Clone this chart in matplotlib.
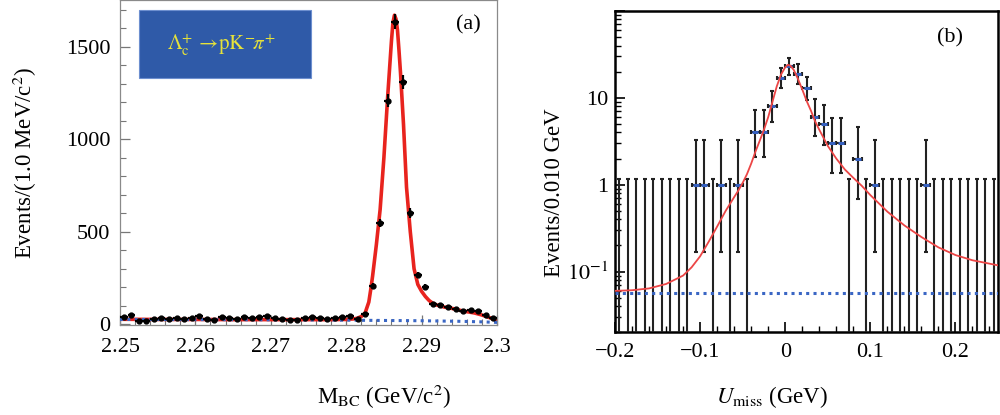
import numpy as np
import matplotlib
matplotlib.use("Agg")
import matplotlib.pyplot as plt
from matplotlib.ticker import MultipleLocator, LogLocator, FixedLocator, FixedFormatter, FuncFormatter, NullFormatter
from matplotlib.patches import Rectangle

plt.rcParams['font.family'] = ['Liberation Serif', 'DejaVu Serif']
plt.rcParams['mathtext.fontset'] = 'stix'

# ---- panel (a): M_BC, 1 MeV bins 2.250 - 2.300
mbc_centers = np.linspace(2.2505, 2.2995, 50)
counts_a = [40, 48, 20, 20, 30, 35, 30, 35, 30, 33,
            45, 30, 25, 40, 33, 28, 40, 35, 38, 42,
            33, 28, 22, 22, 33, 40, 33, 30, 33, 40,
            45, 30, 58, 206, 547, 1208, 1634, 1308, 601, 266,
            203, 112, 105, 94, 80, 72, 76, 70, 49, 33]

fit_a_x = [2.250, 2.255, 2.260, 2.265, 2.270, 2.275, 2.278, 2.280, 2.281, 2.2815,
           2.282, 2.2825, 2.283, 2.2833, 2.2835, 2.284, 2.2845, 2.285, 2.2855, 2.286,
           2.2862, 2.2864, 2.2866, 2.2868, 2.287, 2.2872, 2.2876, 2.288, 2.2885, 2.289,
           2.2895, 2.290, 2.2905, 2.291, 2.2915, 2.292, 2.293, 2.294, 2.295, 2.296,
           2.297, 2.298, 2.299, 2.300]
fit_a_y = [27, 26, 26, 25, 25, 25, 25, 26, 29, 33,
           42, 60, 120, 200, 260, 430, 620, 900, 1230, 1530,
           1630, 1670, 1650, 1590, 1480, 1360, 1080, 740, 500, 300,
           215, 178, 150, 128, 113, 104, 93, 86, 76, 68,
           61, 50, 36, 20]

bkg_a_x = [2.25, 2.26, 2.27, 2.28, 2.29, 2.295, 2.298, 2.30]
bkg_a_y = [26, 25, 24, 22, 19, 16, 13, 10]

# ---- panel (b): U_miss, 0.010 GeV bins -0.20 - 0.25
umiss_centers = np.linspace(-0.195, 0.245, 45)
counts_b = [0, 0, 0, 0, 0, 0, 0, 0, 0,
            1, 1, 0, 1, 0, 1, 0,
            4, 4, 8, 17, 23, 19, 13, 6, 5, 3, 3, 0, 2, 0, 1,
            0, 0, 0, 0, 0, 1, 0, 0, 0, 0, 0, 0, 0, 0]
# Poisson interval bounds, keyed by bin content
poisson_lo = {1: 0.17, 2: 0.69, 3: 1.37, 4: 2.09, 5: 2.84, 6: 3.62,
              8: 5.23, 13: 9.4, 17: 12.9, 19: 14.6, 23: 18.2}
poisson_hi = {0: 1.15, 1: 3.3, 2: 4.64, 3: 5.92, 4: 7.16, 5: 8.38, 6: 9.58,
              8: 11.98, 13: 17.5, 17: 22.2, 19: 24.5, 23: 28.8}

fit_b_x = [-0.20, -0.18, -0.16, -0.14, -0.12, -0.11, -0.10, -0.09, -0.08, -0.07,
           -0.065, -0.06, -0.055, -0.05, -0.045, -0.04, -0.035, -0.03, -0.025, -0.02,
           -0.015, -0.01, -0.005, 0.0, 0.003, 0.006, 0.01, 0.015, 0.02, 0.025,
           0.03, 0.035, 0.04, 0.05, 0.06, 0.07, 0.08, 0.09, 0.10, 0.12,
           0.14, 0.16, 0.18, 0.20, 0.22, 0.25]
fit_b_y = [0.060, 0.061, 0.064, 0.072, 0.090, 0.112, 0.150, 0.22, 0.33, 0.50,
           0.60, 0.72, 0.86, 1.05, 1.32, 1.75, 2.4, 3.2, 4.3, 6.0,
           9.0, 13.5, 18.5, 22.5, 24.0, 23.5, 21.0, 16.5, 12.5, 9.3,
           7.2, 5.4, 4.3, 2.8, 2.0, 1.5, 1.2, 0.97, 0.76, 0.49,
           0.34, 0.25, 0.19, 0.155, 0.135, 0.118]
bkg_b_level = 0.056

red_a = '#e8231e'
red_b = '#ec4646'
blue = '#3a66c4'

fig = plt.figure(figsize=(10, 4.15), dpi=100)

# ================= panel (a)
ax1 = fig.add_axes([0.120, 1 - 325 / 415, 0.377, 325 / 415])
ax1.plot(fit_a_x, fit_a_y, color=red_a, lw=2.6, zorder=2)
ax1.plot(bkg_a_x, bkg_a_y, color=blue, lw=2.2, ls=(0, (1, 1.4)), zorder=3)
ax1.errorbar(mbc_centers, counts_a, xerr=0.0005, yerr=np.sqrt(counts_a),
             fmt='o', ms=3.5, color='black', elinewidth=1.6, capsize=0, zorder=4)
ax1.set_xlim(2.25, 2.30)
ax1.set_ylim(-4, 1752)
ax1.xaxis.set_major_locator(MultipleLocator(0.01))
ax1.xaxis.set_minor_locator(MultipleLocator(0.002))
ax1.xaxis.set_major_formatter(FuncFormatter(lambda v, p: '%g' % round(v, 3)))
ax1.yaxis.set_major_locator(MultipleLocator(500))
ax1.yaxis.set_minor_locator(MultipleLocator(100))
for s in ax1.spines.values():
    s.set_color('#8a8a8a')
    s.set_linewidth(0.9)
ax1.tick_params(which='both', direction='in', top=False, right=False,
                color='#777777', labelsize=16)
ax1.tick_params(which='major', length=7, width=0.9)
ax1.tick_params(which='minor', length=4, width=0.8)
ax1.tick_params(axis='x', pad=9)
ax1.tick_params(axis='y', pad=7)

ax1.add_patch(Rectangle((139 / 1000, 1 - 78 / 415), 172 / 1000, 68 / 415,
                        transform=fig.transFigure, facecolor='#2f5aa8',
                        edgecolor='#6d8fcf', lw=0.8, zorder=5))
fig.text(0.221, 1 - 44 / 415,
         r'$\Lambda_{\rm c}^{+}\,\rightarrow\!{\rm pK}^{-}\!\pi^{+}$',
         color='#e6e23a', fontsize=15, ha='center', va='center', zorder=6)
ax1.text(468 / 1000, 1 - 25 / 415, '(a)', transform=fig.transFigure,
         fontsize=16, ha='center', va='center')

fig.text(0.025, 0.607, r'Events/(1.0 MeV/c$^{2}$)', rotation=90,
         fontsize=16.5, ha='center', va='center')
fig.text(0.384, 1 - 397 / 415, r'M$_{\rm BC}$ (GeV/c$^{2}$)',
         fontsize=16.5, ha='center', va='center')

# ================= panel (b)
ax2 = fig.add_axes([0.615, 1 - 332.3 / 415, 0.383, (332.3 - 11) / 415])
ax2.set_yscale('log')
ax2.set_xlim(-0.2, 0.25)
ax2.set_ylim(0.02, 100)

zero_x = [x for x, n in zip(umiss_centers, counts_b) if n == 0]
zero_top = [poisson_hi[0] for n in counts_b if n == 0]
ax2.errorbar(zero_x, zero_top, yerr=[[t - 1e-3 for t in zero_top], [0] * len(zero_top)],
             fmt='none', ecolor='#222222', elinewidth=1.5, capsize=1.5, capthick=1.5, zorder=3)

hit_x = [x for x, n in zip(umiss_centers, counts_b) if n > 0]
hit_n = [n for n in counts_b if n > 0]
lo = [n - poisson_lo[n] for n in hit_n]
hi = [poisson_hi[n] - n for n in hit_n]
ax2.errorbar(hit_x, hit_n, xerr=0.005, yerr=[lo, hi], fmt='none',
             ecolor='#222222', elinewidth=1.5, capsize=1.5, capthick=1.5, zorder=3)
ax2.plot(hit_x, hit_n, ls='none', marker='_', ms=5, mew=2.2, color='#3560c0', zorder=4)

ax2.plot(fit_b_x, fit_b_y, color=red_b, lw=1.3, zorder=5)
ax2.axhline(bkg_b_level, color=blue, lw=2.2, ls=(0, (1, 1.4)), zorder=5)

ax2.xaxis.set_major_locator(MultipleLocator(0.1))
ax2.xaxis.set_minor_locator(MultipleLocator(0.02))
ax2.xaxis.set_major_formatter(FuncFormatter(lambda v, p: ('%g' % round(v, 2)).replace('-', '\u2212')))
ax2.yaxis.set_major_locator(FixedLocator([0.1, 1, 10, 100]))
ax2.yaxis.set_major_formatter(FixedFormatter([r'$10^{-1}$', '1', '10', '']))
ax2.yaxis.set_minor_locator(LogLocator(base=10, subs=np.arange(2, 10)))
ax2.yaxis.set_minor_formatter(NullFormatter())
for s in ax2.spines.values():
    s.set_color('black')
    s.set_linewidth(1.8)
ax2.tick_params(which='both', direction='in', top=False, right=False, labelsize=16)
ax2.tick_params(which='major', length=7, width=1.2)
ax2.tick_params(which='minor', length=4, width=1.0)
ax2.tick_params(axis='x', pad=8)
ax2.tick_params(axis='y', pad=5)
ax2.text(950 / 1000, 1 - 38 / 415, '(b)', transform=fig.transFigure,
         fontsize=16, ha='center', va='center')

fig.text(0.555, 0.535, 'Events/0.010 GeV', rotation=90,
         fontsize=16.5, ha='center', va='center')
fig.text(0.772, 1 - 397 / 415, r'$U_{\rm miss}$ (GeV)',
         fontsize=16.5, ha='center', va='center')

fig.savefig('out.png', dpi=100)
